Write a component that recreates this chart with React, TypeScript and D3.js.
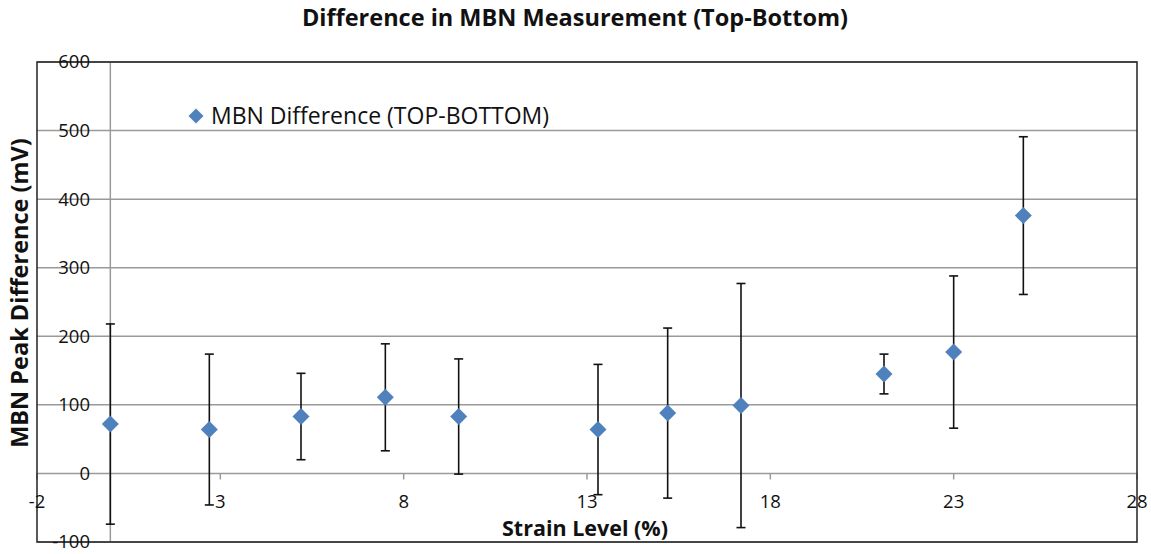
import React from "react";
import * as d3 from "d3";

// Strain level (%) for each measurement
const strain = [0, 2.7, 5.2, 7.5, 9.5, 13.3, 15.2, 17.2, 21.1, 23, 24.9];
// Mean MBN peak difference (mV), top minus bottom
const mbnDiff = [72, 64, 83, 111, 83, 64, 88, 99, 145, 177, 376];
// Error (± mV) for each point
const mbnErr = [146, 110, 63, 78, 84, 95, 124, 178, 29, 111, 115];

const xTicks = [-2, 3, 8, 13, 18, 23, 28];
const yTicks = [-100, 0, 100, 200, 300, 400, 500, 600];

const W = 1151;
const H = 554;
const plot = { left: 37, right: 1137, top: 62, bottom: 542 };
const FONT = "'Open Sans', Lato, sans-serif";
const BLUE = "#4F81BD";
const GRID = "#9a9a9a";

export default function App() {
  const x = d3.scaleLinear().domain([-2, 28]).range([plot.left, plot.right]);
  const y = d3.scaleLinear().domain([-100, 600]).range([plot.bottom, plot.top]);
  const diamond = (cx: number, cy: number, r: number) =>
    `M${cx},${cy - r}L${cx + r},${cy}L${cx},${cy + r}L${cx - r},${cy}Z`;
  const cap = 4.5;

  return (
    <svg width={W} height={H} style={{ position: "absolute", left: 0, top: 0, background: "#fff" }}>
      {/* title */}
      <text x={575} y={26} textAnchor="middle" fontFamily={FONT} fontWeight="bold" fontSize={23.5} fill="#111">
        Difference in MBN Measurement (Top-Bottom)
      </text>

      {/* horizontal gridlines */}
      {yTicks.map((t) => (
        <line key={"g" + t} x1={plot.left} x2={plot.right} y1={y(t)} y2={y(t)} stroke={GRID} strokeWidth={1.5} />
      ))}
      {/* vertical axis at x = 0 */}
      <line x1={x(0)} x2={x(0)} y1={plot.top} y2={plot.bottom} stroke={GRID} strokeWidth={1.5} />
      {/* x tick marks below the zero line */}
      {xTicks.map((t) => (
        <line key={"xt" + t} x1={x(t)} x2={x(t)} y1={y(0)} y2={y(0) + 6} stroke={GRID} strokeWidth={1.5} />
      ))}

      {/* plot border */}
      <rect x={plot.left} y={plot.top} width={plot.right - plot.left} height={plot.bottom - plot.top}
        fill="none" stroke="#222" strokeWidth={1.5} />

      {/* y tick labels */}
      {yTicks.map((t) => (
        <text key={"yl" + t} x={90} y={y(t)} dy="0.35em" textAnchor="end" fontFamily={FONT} fontSize={18.5} fill="#111">
          {t}
        </text>
      ))}
      {/* x tick labels */}
      {xTicks.map((t) => (
        <text key={"xl" + t} x={x(t)} y={y(0) + 35} textAnchor="middle" fontFamily={FONT} fontSize={18.5} fill="#111">
          {t}
        </text>
      ))}

      {/* axis titles */}
      <text x={585} y={535.5} textAnchor="middle" fontFamily={FONT} fontWeight="bold" fontSize={21.5} fill="#111">
        Strain Level (%)
      </text>
      <text transform={`translate(28,${293}) rotate(-90)`} textAnchor="middle" fontFamily={FONT} fontWeight="bold"
        fontSize={23.5} fill="#111">
        MBN Peak Difference (mV)
      </text>

      {/* error bars */}
      {strain.map((s, i) => {
        const cx = x(s);
        const hi = y(mbnDiff[i] + mbnErr[i]);
        const lo = y(mbnDiff[i] - mbnErr[i]);
        return (
          <g key={"e" + i} stroke="#111" strokeWidth={1.6}>
            <line x1={cx} x2={cx} y1={hi} y2={lo} />
            <line x1={cx - cap} x2={cx + cap} y1={hi} y2={hi} />
            <line x1={cx - cap} x2={cx + cap} y1={lo} y2={lo} />
          </g>
        );
      })}

      {/* markers */}
      {strain.map((s, i) => (
        <path key={"m" + i} d={diamond(x(s), y(mbnDiff[i]), 8.5)} fill={BLUE} />
      ))}

      {/* legend */}
      <path d={diamond(196, 116, 7.5)} fill={BLUE} />
      <text x={211} y={116} dy="0.35em" fontFamily={FONT} fontSize={23} fill="#111">
        MBN Difference (TOP-BOTTOM)
      </text>
    </svg>
  );
}
